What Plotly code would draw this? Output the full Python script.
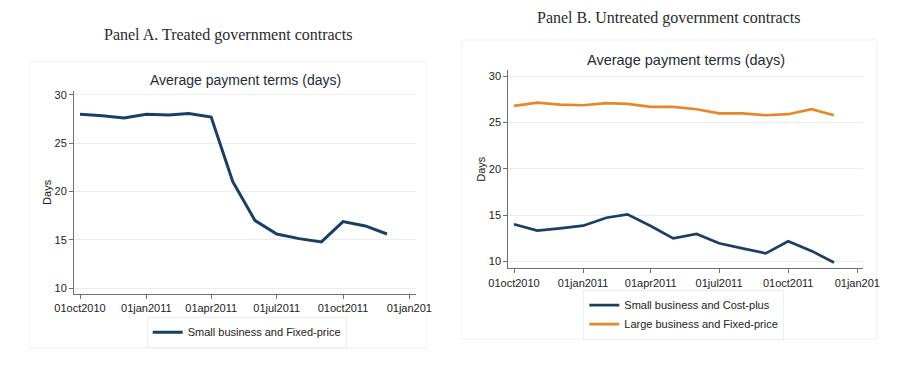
import plotly.graph_objects as go

W, H = 905, 367
OFF = 8  # page body margin in the rendered html

# ---------------- data ----------------
months = ["2010-10-01", "2010-11-01", "2010-12-01", "2011-01-01", "2011-02-01",
          "2011-03-01", "2011-04-01", "2011-05-01", "2011-06-01", "2011-07-01",
          "2011-08-01", "2011-09-01", "2011-10-01", "2011-11-01", "2011-12-01"]

small_fixed = [28.0, 27.86, 27.62, 28.0, 27.93, 28.07, 27.72, 21.03, 17.0, 15.62,
               15.14, 14.8, 16.9, 16.45, 15.62]

small_costplus = [14.0, 13.31, 13.56, 13.85, 14.71, 15.07, 13.81, 12.48, 12.95, 11.94,
                  11.4, 10.86, 12.16, 11.12, 9.86]

large_fixed = [26.8, 27.16, 26.94, 26.87, 27.09, 27.01, 26.69, 26.69, 26.44, 26.0,
               26.0, 25.79, 25.9, 26.44, 25.79]

x_tickvals = ["2010-10-01", "2011-01-01", "2011-04-01", "2011-07-01", "2011-10-01", "2012-01-01"]
x_ticktext = ["01oct2010", "01jan2011", "01apr2011", "01jul2011", "01oct2011", "01jan201"]
y_tickvals = [10, 15, 20, 25, 30]

panel_titles = ["Panel A. Treated government contracts", "Panel B. Untreated government contracts"]
sub_title = "Average payment terms (days)"

NAVY = "#1a3f62"
ORANGE = "#e8862a"
AXIS = "#707070"
GRID = "#e9edf1"
SANS = "Liberation Sans, Arial, sans-serif"
SERIF = "Liberation Serif, Times New Roman, serif"


def px(x):
    return (x - OFF) / W


def py(y):
    return 1 - (y - OFF) / H


fig = go.Figure()

fig.add_trace(go.Scatter(x=months, y=small_fixed, mode="lines", name="Small business and Fixed-price",
                         line=dict(color=NAVY, width=3), xaxis="x", yaxis="y", legend="legend"))
fig.add_trace(go.Scatter(x=months, y=small_costplus, mode="lines", name="Small business and Cost-plus",
                         line=dict(color=NAVY, width=2.7), xaxis="x2", yaxis="y2", legend="legend2"))
fig.add_trace(go.Scatter(x=months, y=large_fixed, mode="lines", name="Large business and Fixed-price",
                         line=dict(color=ORANGE, width=2.7), xaxis="x2", yaxis="y2", legend="legend2"))

xcommon = dict(type="date", tickvals=x_tickvals, ticktext=x_ticktext, showgrid=False,
               showline=True, linecolor=AXIS, linewidth=1, ticks="outside", ticklen=4,
               tickcolor=AXIS, tickfont=dict(family=SANS, size=11, color="#222222"),
               zeroline=False, fixedrange=True, automargin=False)
ycommon = dict(tickvals=y_tickvals, showgrid=True, gridcolor=GRID, gridwidth=1,
               showline=True, linecolor=AXIS, linewidth=1, ticks="outside", ticklen=4,
               tickcolor=AXIS, tickfont=dict(family=SANS, size=11, color="#222222"),
               zeroline=False, fixedrange=True, automargin=False,
               title=dict(text="Days", font=dict(family=SANS, size=11, color="#222222"), standoff=0))

fig.update_layout(
    width=W, height=H,
    margin=dict(l=0, r=0, t=0, b=0, autoexpand=False),
    paper_bgcolor="white", plot_bgcolor="white",
    showlegend=True,
    xaxis=dict(xcommon, domain=[px(74), px(416)], range=["2010-09-22 16:00", "2012-01-10 07:00"],
               anchor="y"),
    yaxis=dict(ycommon, domain=[py(294), py(90.7)], range=[9.41, 30.44], anchor="x"),
    xaxis2=dict(xcommon, domain=[px(508.3), px(863.3)], range=["2010-09-23 10:00", "2012-01-09 00:00"],
                anchor="y2"),
    yaxis2=dict(ycommon, domain=[py(268.3), py(70)], range=[9.24, 30.68], anchor="x2"),
    legend=dict(x=px(146.7), y=py(316.7), xanchor="left", yanchor="top",
                bgcolor="white", bordercolor="#eceff2", borderwidth=1,
                font=dict(family=SANS, size=11, color="#222222")),
    legend2=dict(x=px(583.3), y=py(289.7), xanchor="left", yanchor="top",
                 bgcolor="white", bordercolor="#eceff2", borderwidth=1,
                 font=dict(family=SANS, size=11, color="#222222")),
    shapes=[
        dict(type="rect", xref="paper", yref="paper", x0=px(30), x1=px(426), y0=py(348), y1=py(61.7),
             line=dict(color="#f0f1f3", width=1), fillcolor="rgba(0,0,0,0)", layer="below"),
        dict(type="rect", xref="paper", yref="paper", x0=px(462), x1=px(876.7), y0=py(339), y1=py(40),
             line=dict(color="#f0f1f3", width=1), fillcolor="rgba(0,0,0,0)", layer="below"),
    ],
    annotations=[
        dict(text=panel_titles[0], xref="paper", yref="paper", x=px(228.3), y=py(35),
             xanchor="center", yanchor="middle", showarrow=False,
             font=dict(family=SERIF, size=16, color="#2a2a2a")),
        dict(text=panel_titles[1], xref="paper", yref="paper", x=px(668.3), y=1.0,
             xanchor="center", yanchor="top", showarrow=False, borderpad=0,
             font=dict(family=SERIF, size=16, color="#2a2a2a")),
        dict(text=sub_title, xref="paper", yref="paper", x=px(245), y=py(80),
             xanchor="center", yanchor="middle", showarrow=False,
             font=dict(family=SANS, size=14, color="#1f2a38")),
        dict(text=sub_title, xref="paper", yref="paper", x=px(685.8), y=py(60),
             xanchor="center", yanchor="middle", showarrow=False,
             font=dict(family=SANS, size=14.5, color="#1f2a38")),
    ],
)

fig.write_html("out.html")
